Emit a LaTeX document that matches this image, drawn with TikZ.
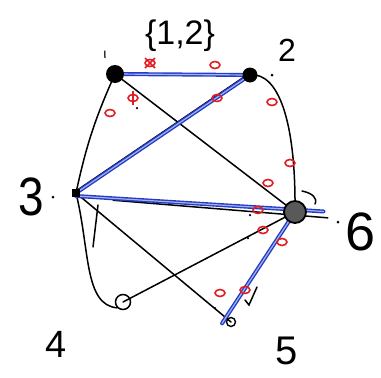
\documentclass[tikz,border=0pt]{standalone}
\usepackage{fontspec}
\setmainfont{Liberation Sans}
\usetikzlibrary{calc,backgrounds,shapes.geometric}
\definecolor{penblue}{RGB}{35,60,200}
\definecolor{penred}{RGB}{225,30,35}
\tikzset{
  blk/.style={draw=black, line width=1.5pt, line cap=round},
  blu/.style={draw=penblue, line width=1.4pt, double=penblue!40, double distance=1.2pt, line cap=round},
  redmark/.style={draw=penred, ellipse, line width=1.6pt, minimum width=10pt, minimum height=7pt, inner sep=0pt},
  vtx/.style={circle, inner sep=0pt},
  lbl/.style={inner sep=0pt, font=\fontsize{#1}{#1}\selectfont},
  pdot/.style={circle, fill=black, inner sep=0pt, minimum size=3pt}
}
\begin{document}
\begin{tikzpicture}[x=1pt,y=-1pt]
\useasboundingbox (0,0) rectangle (381,378);
% vertices
\node[vtx, fill=black, minimum size=18pt] (n1) at (115,74) {};
\node[vtx, fill=black, minimum size=15pt] (n2) at (250,75) {};
\node[rectangle, fill=black, inner sep=0pt, minimum size=8pt] (n3) at (76,193) {};
\node[vtx, draw=black, fill=black!65, line width=1.8pt, minimum size=22pt] (n6) at (295,212) {};
\node[vtx, draw=black, line width=1.5pt, minimum size=15pt] (n4) at (123,302) {};
\node[vtx, draw=black, line width=1.4pt, minimum size=9pt] (n5) at (231,322) {};
% labels
\node[lbl=34] (t12) at (180,36) {\{1,2\}};
\node[lbl=14] (t1) at (105,55) {ι};
\node[lbl=32] (t2) at (287,50) {2};
\node[lbl=54, xscale=0.85] (t3) at (31,197) {3};
\node[pdot] (d3) at (53,197) {};
\node[lbl=54] (t6) at (361,232) {6};
\node[pdot] (d6) at (338,222) {};
\node[lbl=38] (t4) at (56,344) {4};
\node[lbl=40] (t5) at (287,351) {5};
\node[pdot] (d2) at (272,75) {};
\node[pdot, minimum size=2.5pt] (da) at (137,108) {};
\node[pdot, minimum size=2.5pt] (db) at (215,308) {};
\node[pdot, minimum size=2.5pt] (dc) at (250,215) {};
\node[pdot, minimum size=2.5pt] (dd) at (248,238) {};
% red marks
\foreach \p/\n in {(150,63)/r1,(215,65)/r2,(133,98)/r3,(110,113)/r4,(217,98)/r5,(272,102)/r6,(290,163)/r7,(268,183)/r8,(258,210)/r9,(263,230)/r10,(282,242)/r11,(220,293)/r12,(245,290)/r13}
  \node[redmark] (\n) at \p {};
\draw[penred, line width=1.6pt] ($(r1)+(-5,-5)$) -- ($(r1)+(5,5)$) ($(r1)+(5,-5)$) -- ($(r1)+(-5,5)$);
\draw[penred, line width=1.4pt] ($(r3)+(0,-7)$) -- ($(r3)+(0,7)$);
\begin{pgfonlayer}{background}
% black edges
\draw[blk] (n1.center) -- (n2.center);
\draw[blk] ([xshift=-3pt]n2.center) -- ([xshift=-3pt]n3.center);
\draw[blk] (n1.center) to[bend right=6] (n3.center);
\draw[blk] (n1.center) -- (n6.center);
\draw[blk] (n2.center) .. controls (278,72) and (296,120) .. (n6.center);
\draw[blk] (n3.center) .. controls (90,250) and (84,305) .. (n4.south west);
\draw[blk] (98,205) -- (93,247);
\draw[blk] (n3.center) -- (n5.center);
\draw[blk] (n4.center) -- (n6.center);
\draw[blk] ($(n3)!0.17!(n6)+(0,4)$) -- ($(n3)!1.15!(n6)+(0,3)$);
\draw[blk] (302,191) .. controls (312,193) and (318,198) .. (315,204);
\draw[blk] (257,287) -- (249,305) -- (245,300);
% blue edges
\draw[blu] (n1.center) -- (n2.center);
\draw[blu] (n2.center) -- (n3.center);
\draw[blu] ([yshift=-3pt]n3.center) -- ($(n3)!1.13!(n6)+(0,-3)$);
\draw[blu] (n6.center) -- ($(n6)!1.03!(n5)+(-7,-2)$);
\end{pgfonlayer}
\end{tikzpicture}
\end{document}
